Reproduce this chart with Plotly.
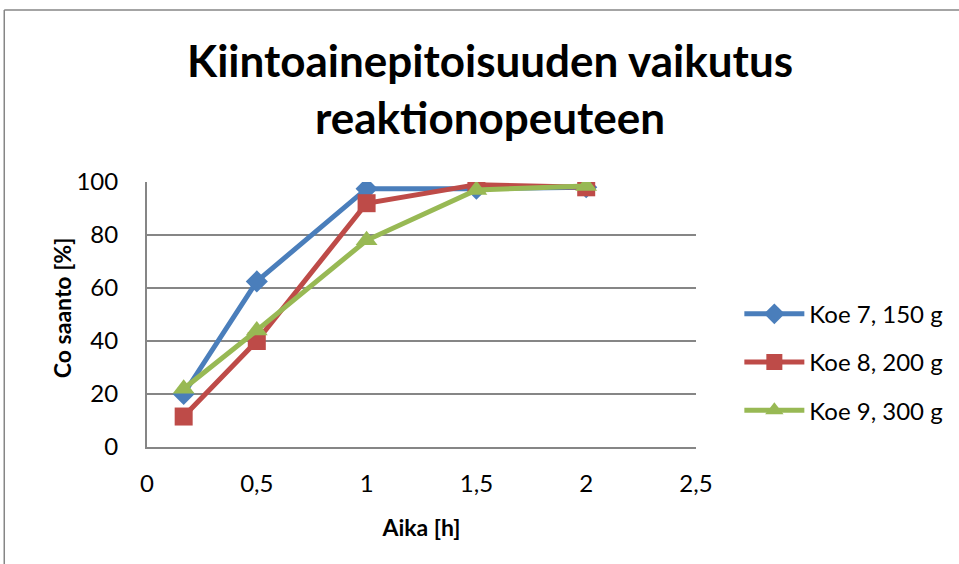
import plotly.graph_objects as go

# Sampling times [h]
times = [0.167, 0.5, 1, 1.5, 2]

# Cobalt yield [%] per experiment
koe7 = [20, 62.5, 97.5, 97.5, 98]
koe8 = [11.5, 40, 92, 99, 98]
koe9 = [22, 44, 78, 97, 98.5]

series_names = ["Koe 7, 150 g", "Koe 8, 200 g", "Koe 9, 300 g"]
colors = ["#4a7ebb", "#be4b48", "#98b954"]
symbols = ["diamond", "square", "triangle-up"]
marker_sizes = [17, 18, 19]

x_ticks = [0, 0.5, 1, 1.5, 2, 2.5]
x_tick_labels = ["0", "0,5", "1", "1,5", "2", "2,5"]
y_ticks = [0, 20, 40, 60, 80, 100]

FONT = "Lato"

fig = go.Figure()
for name, ys, c, s, ms in zip(series_names, [koe7, koe8, koe9], colors, symbols, marker_sizes):
    fig.add_trace(go.Scatter(
        x=times, y=ys, name=name, mode="lines+markers",
        legendgroup=name,
        line=dict(color=c, width=5),
        marker=dict(symbol=s, size=ms, color=c),
    ))

fig.update_layout(
    width=959, height=564,
    margin=dict(l=147, r=262, t=182, b=117),
    paper_bgcolor="white", plot_bgcolor="white",
    font=dict(family=FONT, color="black"),
    title=dict(
        text="<b>Kiintoainepitoisuuden vaikutus<br>reaktionopeuteen</b>",
        x=0.511, xanchor="center", y=1 - 77 / 564, yanchor="middle",
        font=dict(size=44, family=FONT),
    ),
    showlegend=True,
    legend=dict(
        x=1.077, xanchor="left", y=0.32, yanchor="middle",
        font=dict(size=24, family=FONT),
        itemwidth=60, traceorder="grouped", tracegroupgap=14,
        bgcolor="rgba(0,0,0,0)",
    ),
    xaxis=dict(
        range=[0, 2.5], tickvals=x_ticks, ticktext=x_tick_labels,
        showgrid=False, zeroline=False,
        showline=True, linecolor="#868686", linewidth=2,
        ticks="", tickfont=dict(size=24), ticklabelstandoff=14,
        title=dict(text="<b>Aika [h]</b>", font=dict(size=23), standoff=24),
    ),
    yaxis=dict(
        range=[0, 100], tickvals=y_ticks,
        showgrid=True, gridcolor="#868686", gridwidth=1.5,
        zeroline=False,
        showline=True, linecolor="#868686", linewidth=2,
        ticks="", tickfont=dict(size=24), ticklabelstandoff=22,
    ),
)

# Y-axis title placed as a rotated annotation
fig.add_annotation(
    text="<b>Co saanto [%]</b>", textangle=-90,
    xref="paper", yref="paper", x=(62 - 147) / 550, y=(447 - 308) / 265,
    xanchor="center", yanchor="middle", showarrow=False,
    font=dict(size=23, family=FONT, color="black"),
)

# Outer chart border (top and left edges visible)
fig.add_shape(type="line", xref="paper", yref="paper",
              x0=(4 - 147) / 550, x1=(4 - 147) / 550,
              y0=(447 - 10) / 265, y1=(447 - 580) / 265,
              line=dict(color="#868686", width=1.5))
fig.add_shape(type="line", xref="paper", yref="paper",
              x0=(4 - 147) / 550, x1=(980 - 147) / 550,
              y0=(447 - 10) / 265, y1=(447 - 10) / 265,
              line=dict(color="#868686", width=1.5))

fig.write_html("out.html")
